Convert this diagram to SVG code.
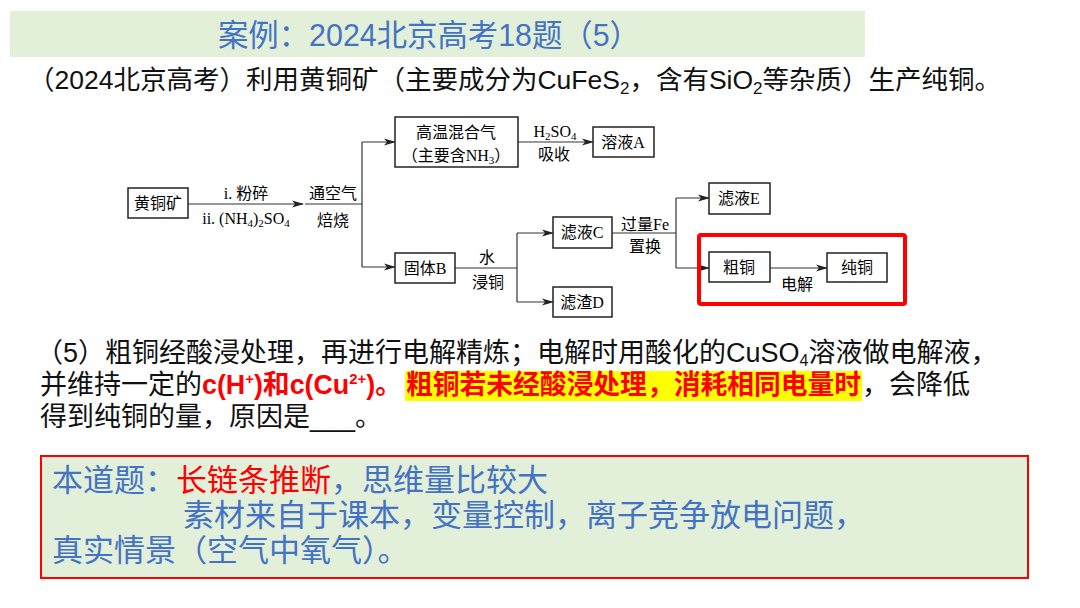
<svg xmlns="http://www.w3.org/2000/svg" width="1080" height="608" viewBox="0 0 1080 608">
<style>
.sans{font-family:"Liberation Sans","Noto Sans CJK SC",sans-serif;}
.fc{font-family:"Liberation Serif","Noto Sans CJK SC",serif;font-size:16px;fill:#000;}
.box{fill:#fff;stroke:#222;stroke-width:1.5;}
.ln{fill:none;stroke:#333;stroke-width:1.2;}
.blue{fill:#4472c4;}
.red{fill:#ff0000;font-weight:bold;}
</style>
<defs>
<marker id="ah" viewBox="0 0 12 8" markerWidth="12" markerHeight="8" refX="11" refY="4" orient="auto" markerUnits="userSpaceOnUse">
<path d="M0,0.5 L12,4 L0,7.5 L3,4 z" fill="#222"/>
</marker>
</defs>
<rect width="1080" height="608" fill="#fff"/>
<g id="title">
<rect x="10" y="11" width="855" height="46" fill="#e2f0d9"/>
<text class="sans blue" x="218" y="46" font-size="31" textLength="422" lengthAdjust="spacingAndGlyphs">案例：2024北京高考18题（5）</text>
</g>
<g id="intro">
<text class="sans" x="28" y="89" font-size="26.5" fill="#111">（2024北京高考）利用黄铜矿（主要成分为CuFeS<tspan font-size="17" dy="5">2</tspan><tspan dy="-5">，含有SiO</tspan><tspan font-size="17" dy="5">2</tspan><tspan dy="-5">等杂质）生产纯铜。</tspan></text>
</g>
<g id="connectors">
<line class="ln" x1="188" y1="204" x2="303" y2="204" marker-end="url(#ah)"/>
<line class="ln" x1="305" y1="204" x2="362" y2="204"/>
<line class="ln" x1="362" y1="142" x2="362" y2="267"/>
<line class="ln" x1="362" y1="142" x2="395" y2="142" marker-end="url(#ah)"/>
<line class="ln" x1="362" y1="267" x2="395" y2="267" marker-end="url(#ah)"/>
<line class="ln" x1="518" y1="142" x2="593" y2="142" marker-end="url(#ah)"/>
<line class="ln" x1="455" y1="268" x2="517" y2="268"/>
<line class="ln" x1="517" y1="233" x2="517" y2="302"/>
<line class="ln" x1="517" y1="233" x2="553" y2="233" marker-end="url(#ah)"/>
<line class="ln" x1="517" y1="302" x2="553" y2="302" marker-end="url(#ah)"/>
<line class="ln" x1="612" y1="233" x2="676" y2="233"/>
<line class="ln" x1="676" y1="198" x2="676" y2="268"/>
<line class="ln" x1="676" y1="198" x2="709" y2="198" marker-end="url(#ah)"/>
<line class="ln" x1="676" y1="268" x2="709" y2="268" marker-end="url(#ah)"/>
<line class="ln" x1="770" y1="268" x2="827" y2="268" marker-end="url(#ah)"/>
</g>
<g id="labels" class="fc">
<text x="246" y="199" text-anchor="middle">i. 粉碎</text>
<text x="246" y="224" text-anchor="middle">ii. (NH<tspan font-size="11" dy="3">4</tspan><tspan dy="-3">)</tspan><tspan font-size="11" dy="3">2</tspan><tspan dy="-3">SO</tspan><tspan font-size="11" dy="3">4</tspan></text>
<text x="333" y="199" text-anchor="middle">通空气</text>
<text x="333" y="226" text-anchor="middle">焙烧</text>
<text x="555" y="137" text-anchor="middle">H<tspan font-size="11" dy="3">2</tspan><tspan dy="-3">SO</tspan><tspan font-size="11" dy="3">4</tspan></text>
<text x="554" y="160" text-anchor="middle">吸收</text>
<text x="487" y="263" text-anchor="middle">水</text>
<text x="488" y="288" text-anchor="middle">浸铜</text>
<text x="645" y="230" text-anchor="middle">过量Fe</text>
<text x="645" y="252" text-anchor="middle">置换</text>
<text x="797" y="290" text-anchor="middle">电解</text>
</g>
<g id="n-huangtongkuang">
<rect class="box" x="128" y="188" width="60" height="30"/>
<text class="fc" x="158" y="209" text-anchor="middle">黄铜矿</text>
</g>
<g id="n-gaowen">
<rect class="box" x="395" y="117" width="123" height="50"/>
<text class="fc" x="456" y="138" text-anchor="middle">高温混合气</text>
<text class="fc" x="456" y="161" text-anchor="middle">（主要含NH<tspan font-size="11" dy="3">3</tspan><tspan dy="-3">）</tspan></text>
</g>
<g id="n-rongyeA">
<rect class="box" x="593" y="127" width="61" height="30"/>
<text class="fc" x="623" y="148" text-anchor="middle">溶液A</text>
</g>
<g id="n-gutiB">
<rect class="box" x="395" y="253" width="60" height="30"/>
<text class="fc" x="425" y="274" text-anchor="middle">固体B</text>
</g>
<g id="n-lvyeC">
<rect class="box" x="553" y="217" width="59" height="31"/>
<text class="fc" x="582" y="238" text-anchor="middle">滤液C</text>
</g>
<g id="n-lvzhaD">
<rect class="box" x="553" y="287" width="59" height="30"/>
<text class="fc" x="582" y="308" text-anchor="middle">滤渣D</text>
</g>
<g id="n-lvyeE">
<rect class="box" x="709" y="183" width="61" height="31"/>
<text class="fc" x="739" y="204" text-anchor="middle">滤液E</text>
</g>
<g id="n-cutong">
<rect class="box" x="709" y="252" width="61" height="30"/>
<text class="fc" x="739" y="273" text-anchor="middle">粗铜</text>
</g>
<g id="n-chuntong">
<rect class="box" x="827" y="253" width="60" height="29"/>
<text class="fc" x="857" y="273" text-anchor="middle">纯铜</text>
</g>
<g id="highlight-box">
<rect x="699" y="235" width="206" height="69" fill="none" stroke="#ff0000" stroke-width="4" rx="2"/>
</g>
<g id="question" class="sans" font-size="27">
<rect x="405" y="371" width="457" height="30" fill="#ffff00"/>
<text x="36" y="362" fill="#111">（5）粗铜经酸浸处理，再进行电解精炼；电解时用酸化的CuSO<tspan font-size="16" dy="4">4</tspan><tspan dy="-4">溶液做电解液，</tspan></text>
<text x="40" y="394" fill="#111">并维持一定的</text>
<text class="red" x="202" y="394" textLength="200" lengthAdjust="spacingAndGlyphs">c(H<tspan font-size="15" dy="-10">+</tspan><tspan dy="10">)和c(Cu</tspan><tspan font-size="15" dy="-10">2+</tspan><tspan dy="10">)。</tspan></text>
<text class="red" x="406" y="394" textLength="455" lengthAdjust="spacingAndGlyphs">粗铜若未经酸浸处理，消耗相同电量时</text>
<text x="862" y="394" fill="#111">，会降低</text>
<text x="40" y="426" fill="#111">得到纯铜的量，原因是___。</text>
</g>
<g id="summary">
<rect x="41" y="456" width="987" height="122" fill="#e2efd9" stroke="#ff0000" stroke-width="2"/>
<text class="sans blue" x="52" y="491" font-size="31">本道题：<tspan fill="#ff0000">长链条推断</tspan>，思维量比较大</text>
<text class="sans blue" x="183" y="526" font-size="31">素材来自于课本，变量控制，离子竞争放电问题，</text>
<text class="sans blue" x="52" y="561" font-size="31">真实情景（空气中氧气）。</text>
</g>
</svg>
